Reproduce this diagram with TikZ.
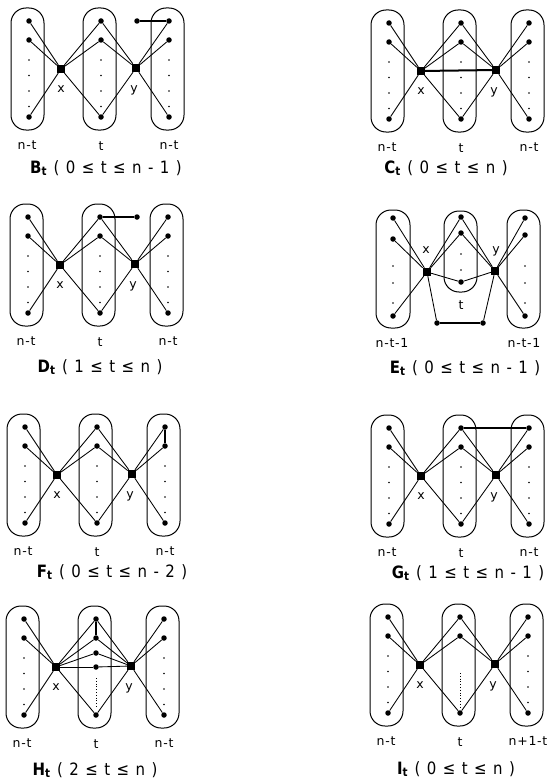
\documentclass[tikz,border=0pt]{standalone}
\usepackage{fontspec}
\setmainfont{DejaVu Sans}
\newfontfamily\labfont[LetterSpace=6]{DejaVu Sans}
\newfontfamily\capfont[LetterSpace=10,FakeStretch=0.88]{DejaVu Sans}
\tikzset{
 grpbox/.style={draw, line width=1pt, rounded corners=15pt},
 edge/.style={line width=0.85pt},
 heavy/.style={line width=2pt},
 vtx/.style={circle, fill, inner sep=0pt, minimum size=5.5pt},
 hub/.style={rectangle, fill, inner sep=0pt, minimum size=8pt},
 sdot/.style={circle, fill, inner sep=0pt, minimum size=1.8pt},
 densedots/.style={line width=1pt, dash pattern=on 1pt off 1.8pt},
 lab/.style={font=\labfont\fontsize{12.5}{12.5}\selectfont, inner sep=0pt},
 captext/.style={font=\capfont\fontsize{17}{17}\selectfont, inner sep=0pt},
}
% #1 prefix, #2 left column x, #3 top row y, #4 middle small dots (1/0), #5 right label
\newcommand\stdpanel[5]{%
\begin{scope}[shift={(#2,#3)}]
 \draw[grpbox] (-18,-13) rectangle (15,109);
 \draw[grpbox] (54,-13) rectangle (87,109);
 \draw[grpbox] (122,-13) rectangle (155,109);
 \foreach \c/\cx in {L/0,M/72,R/140}{
   \node[vtx] (#1\c1) at (\cx,0) {};
   \node[vtx] (#1\c2) at (\cx,19) {};
   \node[vtx] (#1\c3) at (\cx,96) {};
 }
 \foreach \dy in {39,54.5,70,85.5}{
   \node[sdot] at (0,\dy) {};
   \node[sdot] at (140,\dy) {};
 }
 \ifnum#4=1
 \foreach \dy in {39,54.5,70,85.5}{\node[sdot] at (72,\dy) {};}
 \fi
 \node[hub] (#1x) at (32,48) {};
 \node[hub] (#1y) at (107,47) {};
 \foreach \v in {L1,L2,L3,M1,M2,M3}{\draw[edge] (#1x) -- (#1\v);}
 \foreach \v in {M1,M2,M3,R1,R2,R3}{\draw[edge] (#1y) -- (#1\v);}
 \node[lab] (#1lx) at (32,68) {x};
 \node[lab] (#1ly) at (105,69) {y};
 \node[lab] (#1nL) at (-2,124) {n-t};
 \node[lab] (#1nM) at (72,125) {t};
 \node[lab] (#1nR) at (140,124) {#5};
\end{scope}}
\begin{document}
\begin{tikzpicture}[x=1pt,y=-1pt]
\fill[white] (0,0) rectangle (550,784);
\useasboundingbox (0,0) rectangle (550,784);

% B
\stdpanel{B}{29}{21}{1}{n-t}
\node[vtx] (Bp) at (137,21) {};
\draw[heavy] (Bp) -- (BR1);
\node[captext] (Bcap) at (106,168) {{\bfseries B}\textsubscript{\bfseries t} ( 0 ≤ t ≤ n - 1 )};

% C
\stdpanel{C}{389}{23}{1}{n-t}
\draw[heavy] (Cx) -- (Cy);
\node[captext] (Ccap) at (446,168) {{\bfseries C}\textsubscript{\bfseries t} ( 0 ≤ t ≤ n )};

% D
\stdpanel{D}{28}{217}{1}{n-t}
\node[vtx] (Dp) at (137,217) {};
\draw[heavy] (DM1) -- (Dp);
\node[captext] (Dcap) at (100,367) {{\bfseries D}\textsubscript{\bfseries t} ( 1 ≤ t ≤ n )};

% E
\draw[grpbox] (376,210) rectangle (410,328);
\draw[grpbox] (444,211) rectangle (477,292);
\draw[grpbox] (507,210) rectangle (540,328);
\node[vtx] (EL1) at (393,218) {};
\node[vtx] (EL2) at (393,239) {};
\node[vtx] (EL3) at (393,316) {};
\node[vtx] (EM1) at (461,217) {};
\node[vtx] (EM2) at (461,233) {};
\node[vtx] (EM3) at (461,282) {};
\node[vtx] (ER1) at (525,218) {};
\node[vtx] (ER2) at (525,235) {};
\node[vtx] (ER3) at (525,316) {};
\foreach \dy in {266,283,303}{\node[sdot] at (393,\dy) {}; \node[sdot] at (525,\dy) {};}
\foreach \dy in {254,270}{\node[sdot] at (461,\dy) {};}
\node[hub] (Ex) at (427,272) {};
\node[hub] (Ey) at (495,271) {};
\node[vtx] (Ea) at (437,323) {};
\node[vtx] (Eb) at (483,323) {};
\foreach \v in {EL1,EL2,EL3,EM1,EM2,EM3,Ea}{\draw[edge] (Ex) -- (\v);}
\foreach \v in {EM1,EM2,EM3,ER1,ER2,ER3,Eb}{\draw[edge] (Ey) -- (\v);}
\draw[heavy] (Ea) -- (Eb);
\node[lab] (Elx) at (426,250) {x};
\node[lab] (Ely) at (496,251) {y};
\node[lab] (Elt) at (461,305) {t};
\node[lab] (EnL) at (392,343) {n-t-1};
\node[lab] (EnR) at (524,343) {n-t-1};
\node[captext] (Ecap) at (465,368) {{\bfseries E}\textsubscript{\bfseries t} ( 0 ≤ t ≤ n - 1 )};

% F
\stdpanel{F}{25}{427}{1}{n-t}
\draw[heavy] (FR1) -- (FR2);
\node[captext] (Fcap) at (112,572) {{\bfseries F}\textsubscript{\bfseries t} ( 0 ≤ t ≤ n - 2 )};

% G
\stdpanel{G}{389}{428}{1}{n-t}
\draw[heavy] (GM1) -- (GR1);
\node[captext] (Gcap) at (468,573) {{\bfseries G}\textsubscript{\bfseries t} ( 1 ≤ t ≤ n - 1 )};

% H
\stdpanel{H}{24}{619}{0}{n-t}
\begin{scope}[shift={(24,619)}]
\node[vtx] (HMa) at (72,34) {};
\node[vtx] (HMb) at (72,48) {};
\end{scope}
\draw[heavy] (HM1) -- (HM2);
\foreach \v in {HMa,HMb}{\draw[edge] (Hx) -- (\v); \draw[edge] (Hy) -- (\v);}
\draw[densedots] (96,678) -- (96,708);
\node[captext] (Hcap) at (95,770) {{\bfseries H}\textsubscript{\bfseries t} ( 2 ≤ t ≤ n )};

% I
\stdpanel{I}{388}{617}{0}{n+1-t}
\draw[densedots] (460,673) -- (460,708);
\node[captext] (Icap) at (456,769) {{\bfseries I}\textsubscript{\bfseries t} ( 0 ≤ t ≤ n )};
\end{tikzpicture}
\end{document}
